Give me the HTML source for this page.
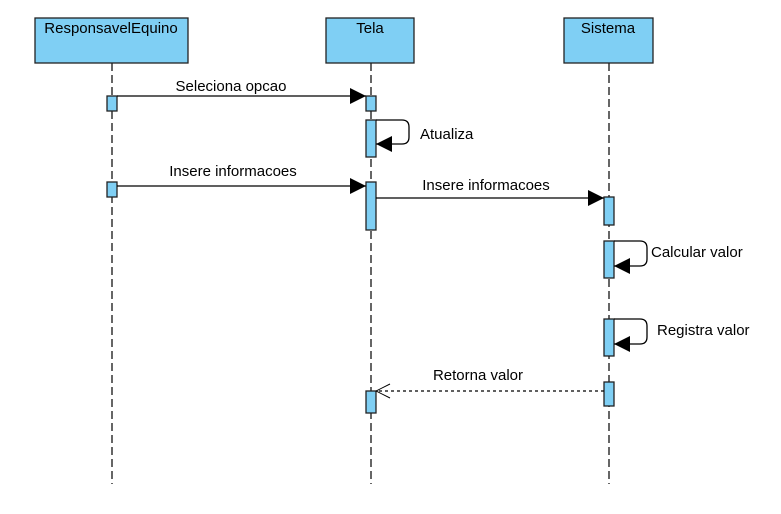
<!DOCTYPE html>
<html><head><style>body{margin:0;background:#fff}</style></head><body>
<svg width="781" height="509" xmlns="http://www.w3.org/2000/svg" font-family="Liberation Sans, sans-serif" font-size="15">
<defs>
<marker id="f" markerWidth="16" markerHeight="16" refX="16" refY="8" orient="auto" markerUnits="userSpaceOnUse"><path d="M0,0 L16,8 L0,16 Z" fill="#000"/></marker>
<marker id="o" markerWidth="16" markerHeight="16" refX="15" refY="8" orient="auto" markerUnits="userSpaceOnUse"><path d="M1,1 L15,8 L1,15" fill="none" stroke="#000"/></marker>
</defs>
<g stroke="#333" stroke-width="1.5" stroke-dasharray="8,4" fill="none">
<line x1="112" y1="63" x2="112" y2="484"/><line x1="371" y1="63" x2="371" y2="484"/><line x1="609" y1="63" x2="609" y2="484"/>
</g>
<g fill="#7fcff4" stroke="#222" stroke-width="1.3">
<rect x="35" y="18" width="153" height="45"/><rect x="326" y="18" width="88" height="45"/><rect x="564" y="18" width="89" height="45"/>
<rect x="107" y="96" width="10" height="15"/><rect x="107" y="182" width="10" height="15"/>
<rect x="366" y="96" width="10" height="15"/><rect x="366" y="120" width="10" height="37"/><rect x="366" y="182" width="10" height="48"/><rect x="366" y="391" width="10" height="22"/>
<rect x="604" y="197" width="10" height="28"/><rect x="604" y="241" width="10" height="37"/><rect x="604" y="319" width="10" height="37"/><rect x="604" y="382" width="10" height="24"/>
</g>
<g fill="#000" text-anchor="middle">
<text x="111" y="33">ResponsavelEquino</text><text x="370" y="33">Tela</text><text x="608" y="33">Sistema</text>
<text x="231" y="91">Seleciona opcao</text><text x="233" y="176">Insere informacoes</text><text x="486" y="190">Insere informacoes</text><text x="478" y="380">Retorna valor</text>
</g>
<g fill="#000"><text x="420" y="139">Atualiza</text><text x="651" y="257">Calcular valor</text><text x="657" y="335">Registra valor</text></g>
<g stroke="#000" stroke-width="1.3" fill="none">
<line x1="117" y1="96" x2="366" y2="96" marker-end="url(#f)"/>
<line x1="117" y1="186" x2="366" y2="186" marker-end="url(#f)"/>
<line x1="376" y1="198" x2="604" y2="198" marker-end="url(#f)"/>
<path d="M376,120 H402 Q409,120 409,127 V137 Q409,144 402,144 H376" marker-end="url(#f)"/>
<path d="M614,241 H640 Q647,241 647,248 V259 Q647,266 640,266 H614" marker-end="url(#f)"/>
<path d="M614,319 H640 Q647,319 647,326 V337 Q647,344 640,344 H614" marker-end="url(#f)"/>
<line x1="604" y1="391" x2="376" y2="391" stroke-dasharray="3,3" marker-end="url(#o)"/>
</g>
</svg>
</body></html>
